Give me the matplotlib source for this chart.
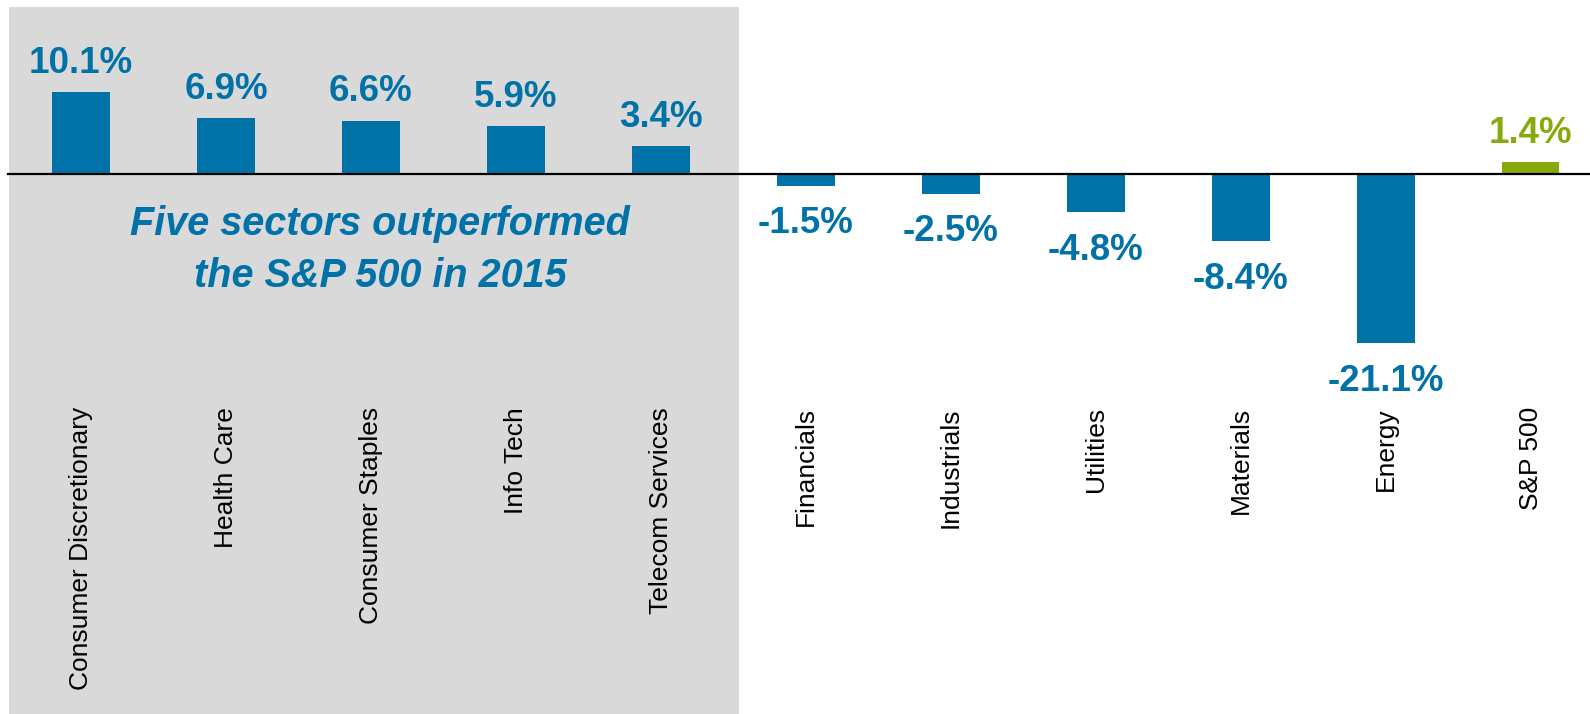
import matplotlib.pyplot as plt

plt.rcParams["font.family"] = ["Liberation Sans", "DejaVu Sans"]

sectors = [
    "Consumer Discretionary", "Health Care", "Consumer Staples", "Info Tech",
    "Telecom Services", "Financials", "Industrials", "Utilities",
    "Materials", "Energy", "S&P 500",
]
returns = [10.1, 6.9, 6.6, 5.9, 3.4, -1.5, -2.5, -4.8, -8.4, -21.1, 1.4]
n_outperformers = 5

BLUE = "#0072A8"
GREEN = "#88A90C"
GRAY = "#D9D9D9"

W, H = 1590, 714
fig = plt.figure(figsize=(W / 100, H / 100), dpi=100)
ax = fig.add_axes([0, 0, 1, 1])

# pixel layout of the reference: bar pitch 145 px, first bar at 81 px,
# zero line 173.5 px from the top, 8.03 px per percentage point
pitch, x0, zero_px, ppu = 144.95, 81, 173.5, 8.03
ax.set_xlim(-x0 / pitch, (W - x0) / pitch)
ax.set_ylim(-(H - zero_px) / ppu, zero_px / ppu)
ax.axis("off")

# shaded panel behind the sectors that beat the index
ax.axvspan(-0.497, n_outperformers - 0.46, ymin=0, ymax=1 - 7 / H,
           color=GRAY, zorder=0, lw=0)

colors = [GREEN if s == "S&P 500" else BLUE for s in sectors]
xs = range(len(sectors))
ax.bar(xs, returns, width=0.4, color=colors, zorder=2)
ax.axhline(0, xmin=8 / W, xmax=1, color="black", lw=1.6, zorder=3)

for x, v, c in zip(xs, returns, colors):
    if v >= 0:
        ax.annotate(f"{v:.1f}%", (x, v), xytext=(0, 13.7), textcoords="offset points",
                    ha="center", va="baseline", fontsize=26.5, fontweight="bold", color=c)
    else:
        ax.annotate(f"{v:.1f}%", (x, v), xytext=(0, -15), textcoords="offset points",
                    ha="center", va="top", fontsize=26.5, fontweight="bold", color=c)

label_y = (zero_px - 407) / ppu
for x, name in zip(xs, sectors):
    ax.text(x, label_y, name, rotation=90, ha="center", va="top",
            fontsize=19, color="black")

fig.text(380 / W, 1 - 235 / H, "Five sectors outperformed", ha="center", va="baseline",
         fontsize=28.5, fontweight="bold", fontstyle="italic", color=BLUE)
fig.text(380 / W, 1 - 287 / H, "the S&P 500 in 2015", ha="center", va="baseline",
         fontsize=28.5, fontweight="bold", fontstyle="italic", color=BLUE)

fig.savefig("out.png", dpi=100)
